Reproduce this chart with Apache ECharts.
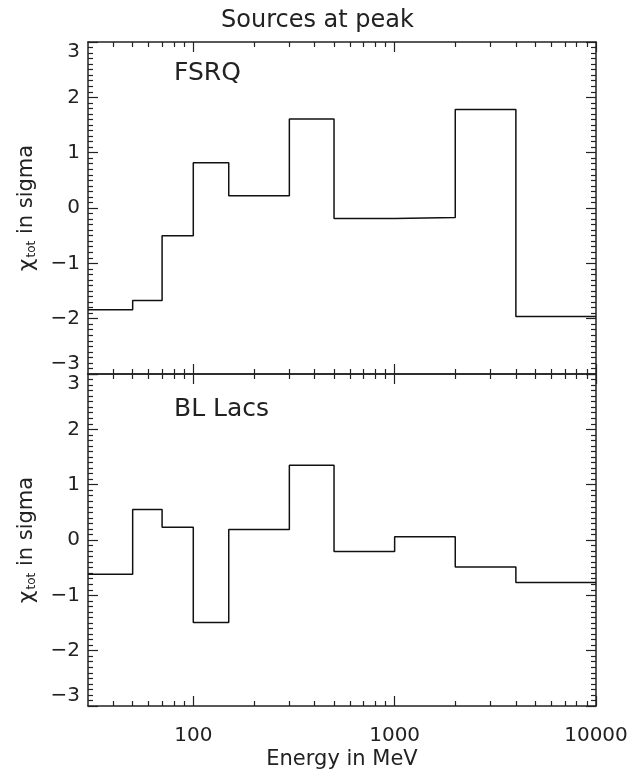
<!DOCTYPE html>
<html><head><meta charset="utf-8">
<script src="https://cdn.jsdelivr.net/npm/echarts@6/dist/echarts.min.js"></script>
<style>html,body{margin:0;background:#fff}#c{width:635px;height:776px}</style>
</head><body><div id="c"></div><script>
// bin edges in MeV
const binEdges = [30, 50, 70, 100, 150, 300, 500, 1000, 2000, 4000, 10000];
// chi_tot in sigma per bin
const fsrq  = [-1.84, -1.67, -0.50, 0.82, 0.22, 1.61, -0.19, -0.17, 1.78, -1.96];
const bllac = [-0.62, 0.55, 0.23, -1.49, 0.19, 1.35, -0.21, 0.06, -0.49, -0.77];
const xMajorTicks = [100, 1000, 10000];
const xMinorTicks = [40, 50, 60, 70, 80, 90, 200, 300, 400, 500, 600, 700, 800, 900,
  2000, 3000, 4000, 5000, 6000, 7000, 8000, 9000];
const panelLabels = ['FSRQ', 'BL Lacs'];

const FONT = 'DejaVu Sans';
const INK = '#222';
const lg = v => Math.log10(v);
const xMin = lg(binEdges[0]), xMax = lg(binEdges[binEdges.length - 1]);

function steps(vals) {
  return binEdges.map((e, i) => [lg(e), vals[Math.min(i, vals.length - 1)]]);
}

const grids = [
  {left: 88, right: 39, top: 42, height: 332},
  {left: 88, right: 39, top: 374, height: 332}
];

const xAxis = [], yAxis = [];
grids.forEach((g, gi) => {
  ['bottom', 'top'].forEach(pos => {
    const labels = (gi === 1 && pos === 'bottom');
    xAxis.push({
      type: 'value', gridIndex: gi, position: pos, min: xMin, max: xMax,
      axisLine: {show: true, onZero: false, lineStyle: {color: INK, width: 1.5}},
      axisTick: {show: true, inside: true, length: 10, customValues: xMajorTicks.map(lg), lineStyle: {color: INK, width: 1.2}},
      axisLabel: {show: labels, customValues: xMajorTicks.map(lg), formatter: v => String(Math.round(Math.pow(10, v))),
        fontFamily: FONT, fontSize: 20, color: INK, margin: 20},
      splitLine: {show: false},
      name: labels ? 'Energy in MeV' : '', nameLocation: 'middle', nameGap: 43,
      nameTextStyle: {fontFamily: FONT, fontSize: 21, color: INK}
    });
    xAxis.push({
      type: 'value', gridIndex: gi, position: pos, min: xMin, max: xMax,
      axisLine: {show: false, onZero: false},
      axisTick: {show: true, inside: true, length: 5, customValues: xMinorTicks.map(lg), lineStyle: {color: INK, width: 1.2}},
      axisLabel: {show: false}, splitLine: {show: false}
    });
  });
  ['left', 'right'].forEach(pos => {
    const left = pos === 'left';
    yAxis.push({
      type: 'value', gridIndex: gi, position: pos, min: -3, max: 3, interval: 1,
      axisLine: {show: true, onZero: false, lineStyle: {color: INK, width: 1.5}},
      axisTick: {show: true, inside: true, length: 10, lineStyle: {color: INK, width: 1.2}},
      minorTick: {show: true, splitNumber: 10, length: 5, lineStyle: {color: INK, width: 1.2}},
      axisLabel: {show: left, fontFamily: FONT, fontSize: 20, color: INK, margin: 8,
        showMinLabel: true, showMaxLabel: true,
        verticalAlignMinLabel: 'bottom', verticalAlignMaxLabel: 'top',
        formatter: v => (v < 0 ? '\u2212' + Math.abs(v) : String(v))},
      splitLine: {show: false}, minorSplitLine: {show: false},
      name: left ? '{c|χ}{s|tot}{n| in sigma}' : '', nameLocation: 'middle', nameGap: 50, nameRotate: 90,
      nameTextStyle: {fontFamily: FONT, fontSize: 21, color: INK,
        rich: {
          c: {fontFamily: FONT, fontSize: 22, color: INK},
          s: {fontFamily: FONT, fontSize: 12, color: INK, padding: [9, 0, 0, 1]},
          n: {fontFamily: FONT, fontSize: 21, color: INK}
        }}
    });
  });
});

const series = [fsrq, bllac].map((vals, gi) => ({
  type: 'line', step: 'end', xAxisIndex: gi * 4, yAxisIndex: gi * 2,
  data: steps(vals), symbol: 'none', silent: true,
  lineStyle: {color: '#111', width: 1.5}
}));

const chart = echarts.init(document.getElementById('c'));
chart.setOption({
  backgroundColor: '#fff',
  animation: false,
  title: {text: 'Sources at peak', left: 'center', top: 4,
    textStyle: {fontFamily: FONT, fontSize: 24, fontWeight: 'normal', color: INK}},
  grid: grids,
  xAxis, yAxis, series,
  graphic: [
    {type: 'text', left: 174, top: 61, style: {text: panelLabels[0], font: '25px "DejaVu Sans"', fill: INK}},
    {type: 'text', left: 174, top: 397, style: {text: panelLabels[1], font: '25px "DejaVu Sans"', fill: INK}}
  ]
});
</script></body></html>
